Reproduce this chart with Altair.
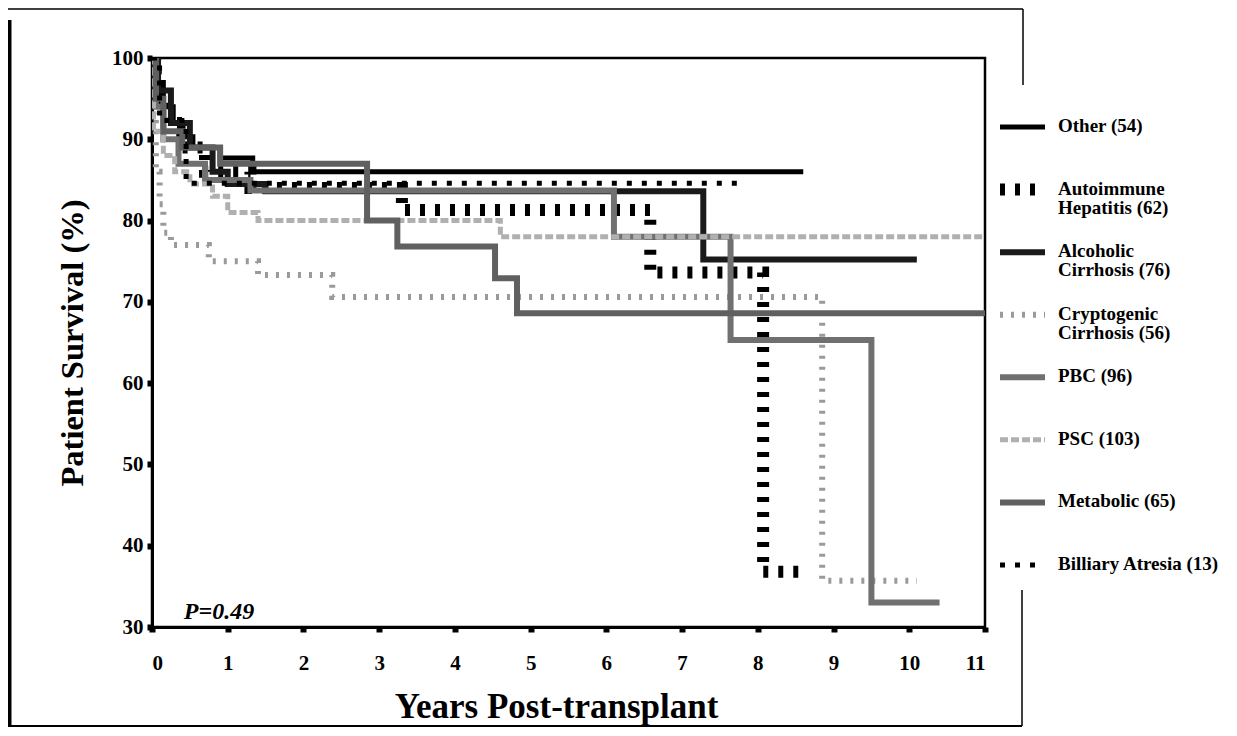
import altair as alt
import pandas as pd

FONT = "Liberation Serif"

series_names = ["Other (54)", "Autoimmune\nHepatitis (62)", "Alcoholic\nCirrhosis (76)",
                "Cryptogenic\nCirrhosis (56)", "PBC (96)", "PSC (103)", "Metabolic (65)",
                "Billiary Atresia (13)"]

other_t = [0, 0.05, 0.15, 0.28, 0.41, 0.54, 0.9, 1.33, 8.6]
other_s = [100, 97, 94, 92, 90.3, 89, 87.7, 86, 86]
autoimmune_t = [0, 0.05, 0.2, 0.4, 0.7, 1.3, 3.3, 6.58, 8.07, 8.65]
autoimmune_s = [100, 95, 92, 89, 86, 84, 81.3, 73.6, 36.8, 36.8]
alcoholic_t = [0, 0.08, 0.25, 0.5, 0.8, 1.0, 1.5, 7.28, 10.1]
alcoholic_s = [100, 96, 92, 89, 86, 84.5, 83.6, 75.2, 75.2]
cryptogenic_t = [0, 0.02, 0.05, 0.1, 0.15, 0.25, 0.75, 1.4, 2.38, 8.85, 10.1]
cryptogenic_s = [100, 92, 86, 82, 78.5, 77, 75, 73.3, 70.6, 35.7, 35.7]
pbc_t = [0, 0.05, 0.15, 0.35, 0.7, 1.3, 6.1, 7.64, 9.5, 10.4]
pbc_s = [100, 94, 90, 87, 85, 83.7, 78, 65.3, 33, 33]
psc_t = [0, 0.02, 0.15, 0.3, 0.5, 0.8, 1.0, 1.4, 4.6, 11]
psc_s = [100, 91, 88, 86, 84.5, 83, 81, 80, 78, 78]
metabolic_t = [0, 0.05, 0.15, 0.4, 0.9, 2.84, 3.24, 4.53, 4.82, 11]
metabolic_s = [100, 95, 91, 89, 87, 80, 76.8, 72.9, 68.6, 68.6]
billiary_t = [0, 0.1, 0.45, 7.85]
billiary_s = [100, 92.3, 84.6, 84.6]

x_ticks = list(range(0, 12))
y_ticks = list(range(30, 101, 10))

all_t = [other_t, autoimmune_t, alcoholic_t, cryptogenic_t, pbc_t, psc_t, metabolic_t, billiary_t]
all_s = [other_s, autoimmune_s, alcoholic_s, cryptogenic_s, pbc_s, psc_s, metabolic_s, billiary_s]

colors = ["#000000", "#000000", "#1a1a1a", "#9a9a9a", "#707070", "#b0b0b0", "#606060", "#000000"]
dashes = [[1, 0], [5, 10], [1, 0], [3, 8], [1, 0], [8, 3], [1, 0], [5, 10]]
widths = [5, 12, 6, 6, 6, 5, 6, 5]

rows = []
for i, (name, ts, ss) in enumerate(zip(series_names, all_t, all_s)):
    for t, s in zip(ts, ss):
        rows.append({"series": name, "t": t, "s": s, "k": i,
                     "col": colors[i], "dash": dashes[i], "w": widths[i]})
df = pd.DataFrame(rows)

legend_df = pd.DataFrame({"series": series_names, "idx": list(range(len(series_names))),
                          "col": colors, "dash": dashes, "w": widths})

lines = alt.Chart(df).mark_line(interpolate="step-after", clip=True, strokeCap="butt").encode(
    x=alt.X("t:Q", scale=alt.Scale(domain=[0, 11], nice=False),
            axis=alt.Axis(values=x_ticks, title="Years Post-transplant", format="d",
                          titleX=404, titleAnchor="middle")),
    y=alt.Y("s:Q", scale=alt.Scale(domain=[30, 100], nice=False),
            axis=alt.Axis(values=y_ticks, title="Patient Survival (%)", format="d")),
    color=alt.Color("col:N", scale=None),
    strokeDash=alt.StrokeDash("dash:N", scale=None),
    strokeWidth=alt.StrokeWidth("w:Q", scale=None),
    order=alt.Order("t:Q"),
    detail="series:N",
)

ptext_df = pd.DataFrame({"t": [0.42], "s": [31.9], "label": ["P=0.49"]})
ptext = alt.Chart(ptext_df).mark_text(
    font=FONT, fontSize=24, fontWeight="bold", fontStyle="italic", align="left", baseline="middle",
    color="black").encode(x="t:Q", y="s:Q", text="label:N")

main = alt.layer(lines, ptext)

leg_y = alt.Y("idx:O", scale=alt.Scale(type="point", range=[69, 507], padding=0), axis=None)
leg_rules = alt.Chart(legend_df).mark_rule(strokeCap="butt").encode(
    x=alt.value(848), x2=alt.value(893), y=leg_y,
    color=alt.Color("col:N", scale=None),
    strokeDash=alt.StrokeDash("dash:N", scale=None),
    strokeWidth=alt.StrokeWidth("w:Q", scale=None),
)
leg_text = alt.Chart(legend_df).mark_text(
    font=FONT, fontSize=19, fontWeight="bold", color="black", align="left", baseline="top",
    dy=-10, lineBreak="\n", lineHeight=19).encode(
    x=alt.value(906), y=leg_y, text="series:N")
leg = alt.layer(leg_rules, leg_text)

# decorative outer frame
f1 = alt.Chart().mark_rule(color="black", strokeWidth=1.5).encode(
    x=alt.value(-147), x2=alt.value(871), y=alt.value(-49))
f2 = alt.Chart().mark_rule(color="black", strokeWidth=1.5).encode(
    x=alt.value(871), y=alt.value(-49), y2=alt.value(27))
f3 = alt.Chart().mark_rule(color="black", strokeWidth=7).encode(
    x=alt.value(-144), y=alt.value(-38), y2=alt.value(680))
f4 = alt.Chart().mark_rule(color="black", strokeWidth=2).encode(
    x=alt.value(-147), x2=alt.value(870), y=alt.value(668))
f5 = alt.Chart().mark_rule(color="black", strokeWidth=1.5).encode(
    x=alt.value(870), y=alt.value(532), y2=alt.value(668))

chart = alt.layer(main, leg, f1, f2, f3, f4, f5).resolve_scale(
    y="independent"
).properties(
    width=833, height=569,
    autosize=alt.AutoSizeParams(type="none"),
    padding={"left": 144, "top": 50, "right": 244, "bottom": 100},
    background="white",
).configure_view(
    stroke="black", strokeWidth=2.5
).configure_axis(
    grid=False, domainColor="black", domainWidth=3, tickColor="black", tickSize=5, tickWidth=6,
    labelFont=FONT, labelFontWeight="bold", labelFontSize=21, labelColor="black",
    titleFont=FONT, titleFontWeight="bold", titleColor="black",
).configure_axisX(
    labelPadding=20, titleFontSize=35, titlePadding=16,
).configure_axisY(
    labelPadding=4, titleFontSize=32.5, titlePadding=22,
)

chart.save("out.html", embed_options={"renderer": "svg", "actions": False})
